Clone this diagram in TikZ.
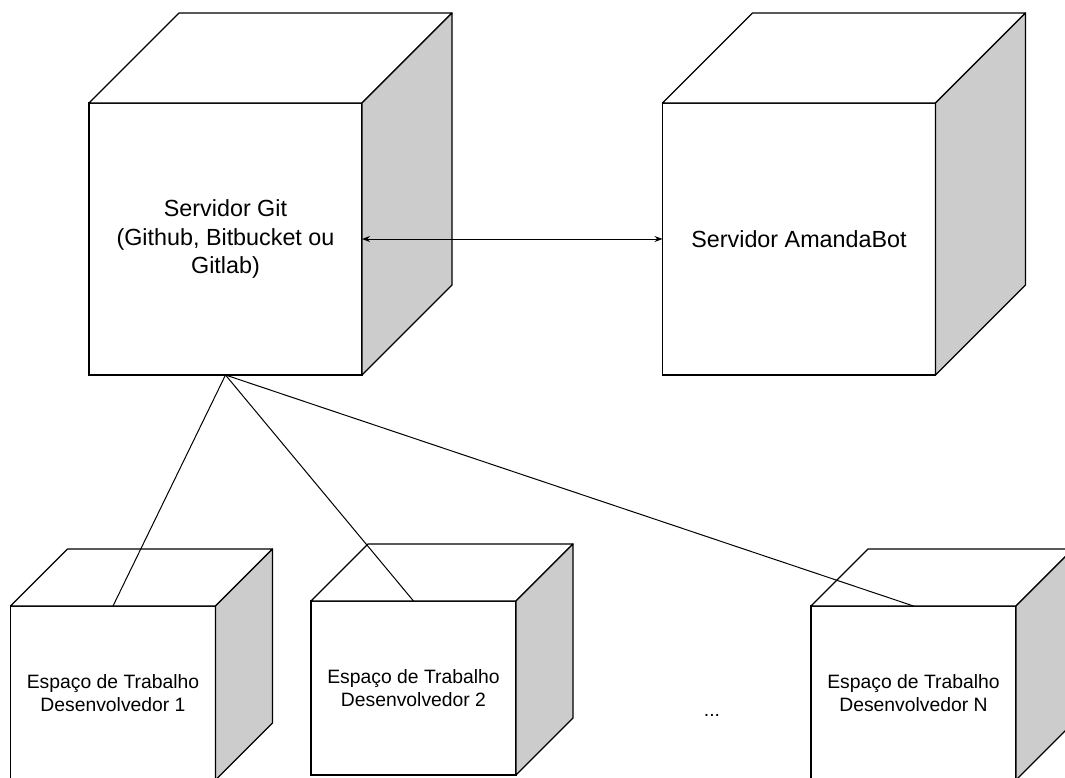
\documentclass[tikz,border=0pt]{standalone}
\usepackage{fontspec}
\setmainfont{Liberation Sans}
\usetikzlibrary{arrows.meta}
\definecolor{sidegray}{HTML}{CCCCCC}
\tikzset{
  front/.style={draw, fill=white, inner sep=0pt, outer sep=0pt, align=center},
  bigbox/.style={front, minimum width=204.75pt, minimum height=204pt, font=\fontsize{17.5}{21.4}\selectfont},
  smallbox/.style={front, minimum width=153.75pt, minimum height=130.5pt, font=\fontsize{14.5}{17.25}\selectfont},
  topface/.style={draw, fill=white, line join=round},
  sideface/.style={draw, fill=sidegray, line join=round},
  link/.style={line width=0.75pt},
}

\begin{document}
\begin{tikzpicture}[x=0.75pt, y=-0.75pt, line width=0.9pt, >={Stealth[length=6pt,width=4.5pt]}]
    \useasboundingbox (0,0) rectangle (1065,778);
    \clip (0,0) rectangle (1065,778);
    % servidores
    \node [bigbox] (git) at (225.5,239) {Servidor Git\\(Github, Bitbucket ou\\Gitlab)};
    \draw [topface] (git.north west) -- ++(90,-90) -- ++(273,0) -- (git.north east) -- cycle;
    \draw [sideface] (git.north east) -- ++(90,-90) -- ++(0,272) -- (git.south east) -- cycle;
    \node [bigbox] (amanda) at (799,239) {Servidor AmandaBot};
    \draw [topface] (amanda.north west) -- ++(90,-90) -- ++(273,0) -- (amanda.north east) -- cycle;
    \draw [sideface] (amanda.north east) -- ++(90,-90) -- ++(0,272) -- (amanda.south east) -- cycle;
    \draw [link, <->] (git.east) -- (amanda.west);
    % espacos de trabalho
    \node [smallbox] (dev1) at (113,693) {Espaço de Trabalho\\Desenvolvedor 1};
    \draw [topface] (dev1.north west) -- ++(57,-57) -- ++(205,0) -- (dev1.north east) -- cycle;
    \draw [sideface] (dev1.north east) -- ++(57,-57) -- ++(0,174) -- (dev1.south east) -- cycle;
    \node [smallbox] (dev2) at (413.5,688) {Espaço de Trabalho\\Desenvolvedor 2};
    \draw [topface] (dev2.north west) -- ++(57,-57) -- ++(205,0) -- (dev2.north east) -- cycle;
    \draw [sideface] (dev2.north east) -- ++(57,-57) -- ++(0,174) -- (dev2.south east) -- cycle;
    \node [smallbox] (devN) at (913.5,693) {Espaço de Trabalho\\Desenvolvedor N};
    \draw [topface] (devN.north west) -- ++(57,-57) -- ++(205,0) -- (devN.north east) -- cycle;
    \draw [sideface] (devN.north east) -- ++(57,-57) -- ++(0,174) -- (devN.south east) -- cycle;
    \node [anchor=base, font=\fontsize{14.5}{17.25}\selectfont] (dots) at (712,716) {...};
    % ligacoes
    \draw [link] (git.south) -- (dev1.north);
    \draw [link] (git.south) -- (dev2.north);
    \draw [link] (git.south) -- (devN.north);
\end{tikzpicture}
\end{document}
